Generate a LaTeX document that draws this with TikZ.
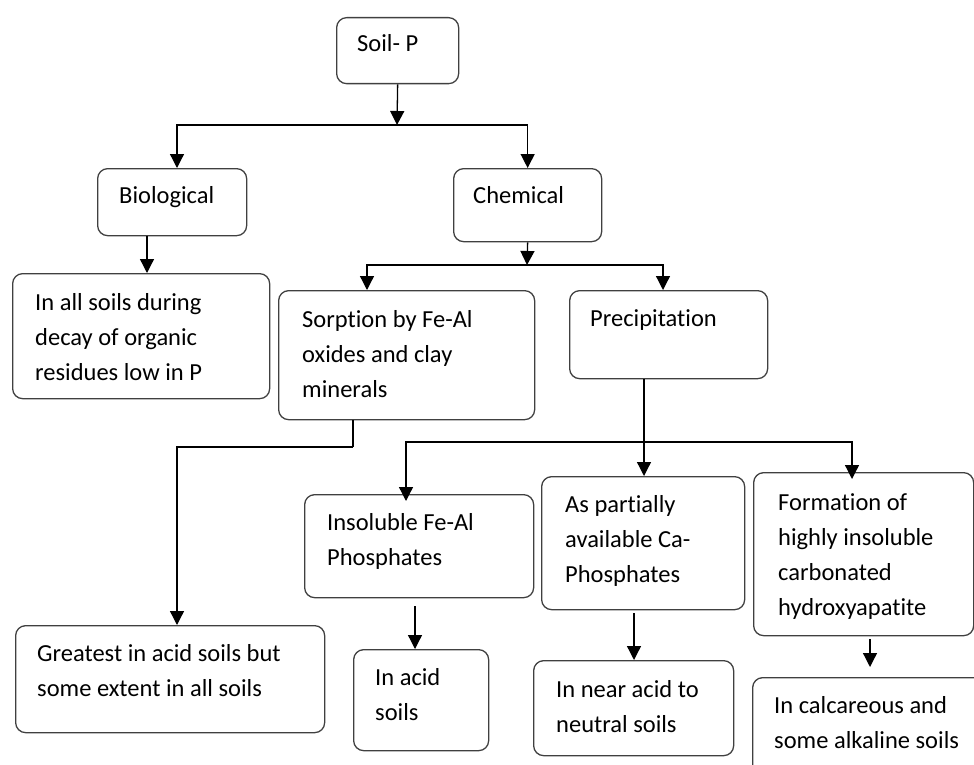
\documentclass[tikz,border=0pt]{standalone}
\usepackage{fontspec}
\setmainfont{Carlito}[Ligatures=NoCommon]
\usetikzlibrary{positioning, arrows.meta, calc}

\tikzset{
  blk/.style={draw=black!75, line width=1.3pt, rounded corners=10pt, anchor=north west, inner sep=0pt},
  txt/.style={anchor=base west, inner sep=0pt, font=\fontsize{24.5}{35}\selectfont,
    execute at begin node={\begin{minipage}[t]{320pt}\raggedright},
    execute at end node={\end{minipage}}},
  arr/.style={line width=1.3pt, -{Triangle[width=14pt,length=14pt]}},
}

\begin{document}
\begin{tikzpicture}[x=1pt, y=-1pt]
  \path[use as bounding box, clip] (0,0) rectangle (974,765);

  % boxes
  \node[blk, minimum width=122pt, minimum height=66pt]  (soil)  at (336,17)  {};
  \node[blk, minimum width=149pt, minimum height=67pt]  (bio)   at (97,168)  {};
  \node[blk, minimum width=148pt, minimum height=73pt]  (chem)  at (453,168) {};
  \node[blk, minimum width=257pt, minimum height=125pt] (decay) at (12,273)  {};
  \node[blk, minimum width=256pt, minimum height=129pt] (sorp)  at (278,290) {};
  \node[blk, minimum width=198pt, minimum height=88pt]  (prec)  at (569,290) {};
  \node[blk, minimum width=309pt, minimum height=107pt] (great) at (15,625)  {};
  \node[blk, minimum width=229pt, minimum height=103pt] (insol) at (304,494) {};
  \node[blk, minimum width=135pt, minimum height=101pt] (acid)  at (353,649) {};
  \node[blk, minimum width=203pt, minimum height=133pt] (capho) at (541,476) {};
  \node[blk, minimum width=200pt, minimum height=95pt]  (near)  at (533,660) {};
  \node[blk, minimum width=220pt, minimum height=163pt] (hydro) at (753,472) {};
  \node[blk, minimum width=240pt, minimum height=110pt] (calc)  at (752,677) {};

  % texts
  \node[txt] (soilt)  at ($(soil.north west)+(21,35)$)  {Soil- P};
  \node[txt] (biot)   at ($(bio.north west)+(22,35)$)   {Biological};
  \node[txt] (chemt)  at ($(chem.north west)+(20,35)$)  {Chemical};
  \node[txt] (decayt) at ($(decay.north west)+(23,37)$) {In all soils during\\decay of organic\\residues low in P};
  \node[txt] (sorpt)  at ($(sorp.north west)+(24,37)$)  {Sorption by Fe-Al\\oxides and clay\\minerals};
  \node[txt] (prect)  at ($(prec.north west)+(21,36)$)  {Precipitation};
  \node[txt] (greatt) at ($(great.north west)+(22,36)$) {Greatest in acid soils but\\some extent in all soils};
  \node[txt] (insolt) at ($(insol.north west)+(23,36)$) {Insoluble Fe-Al\\Phosphates};
  \node[txt] (acidt)  at ($(acid.north west)+(22,36)$)  {In acid\\soils};
  \node[txt] (caphot) at ($(capho.north west)+(24,36)$) {As partially\\available Ca-\\Phosphates};
  \node[txt] (neart)  at ($(near.north west)+(23,37)$)  {In near acid to\\neutral soils};
  \node[txt] (hydrot) at ($(hydro.north west)+(25,38)$) {Formation of\\highly insoluble\\carbonated\\hydroxyapatite};
  \node[txt] (calct)  at ($(calc.north west)+(22,36)$)  {In calcareous and\\some alkaline soils};

  % junctions
  \coordinate (soilbar) at (397,125);
  \coordinate (chembar) at (527,265);
  \coordinate (sorpbar) at (353,447);
  \coordinate (precbar) at (644,442);

  % connectors
  \draw[arr] (soil.south) -- (soilbar);
  \draw[arr] (soilbar) -| (bio.north -| 177,0);
  \draw[arr] (soilbar) -| (chem.north);
  \draw[arr] (bio.south -| 147,0) -- (decay.north -| 147,0);
  \draw[arr] (chem.south) -- (chembar);
  \draw[arr] (chembar) -| (sorp.north -| 367,0);
  \draw[arr] (chembar) -| (prec.north -| 663,0);
  \draw[line width=1.3pt] (sorp.south -| sorpbar) -- (sorpbar);
  \draw[arr] (sorpbar) -| (great.north -| 177,0);
  \draw[arr] (prec.south -| precbar) -- (capho.north -| precbar);
  \draw[arr] (precbar) -| ([yshift=-7pt]insol.north -| 406,0);
  \draw[arr] (precbar) -| ([yshift=-7pt]hydro.north -| 852,0);
  \draw[arr, shorten <=8pt] (insol.south -| 415,0) -- (acid.north -| 415,0);
  \draw[arr, shorten <=3pt] (capho.south -| 634,0) -- (near.north -| 634,0);
  \draw[arr, shorten <=3pt, shorten >=10pt] (hydro.south -| 870,0) -- (calc.north -| 870,0);
\end{tikzpicture}
\end{document}
